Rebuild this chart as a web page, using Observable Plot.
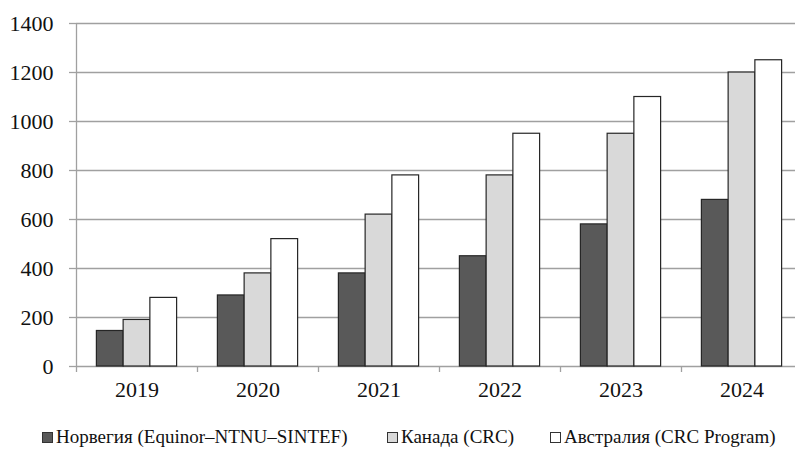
<!DOCTYPE html>
<html>
<head>
<meta charset="utf-8">
<script src="https://cdn.jsdelivr.net/npm/d3@7"></script>
<script src="https://cdn.jsdelivr.net/npm/@observablehq/plot@0.6"></script>
<style>
  html, body { margin: 0; padding: 0; background: #fff; }
  #wrap { position: relative; width: 795px; height: 450px; font-family: "Liberation Serif", "Times New Roman", serif; }
  .leg { position: absolute; top: 426px; font-size: 19px; color: #111; white-space: nowrap; display: flex; align-items: center; }
  .sw { display: inline-block; width: 9px; height: 9px; border: 1px solid #333; margin-right: 3px; }
</style>
</head>
<body>
<div id="wrap"></div>
<script>
const years = ["2019", "2020", "2021", "2022", "2023", "2024"];
const seriesNames = ["Норвегия (Equinor–NTNU–SINTEF)", "Канада (CRC)", "Австралия (CRC Program)"];
const norway = [145, 290, 380, 450, 580, 680];
const canada = [190, 380, 620, 780, 950, 1200];
const australia = [280, 520, 780, 950, 1100, 1250];
const yTicks = [0, 200, 400, 600, 800, 1000, 1200, 1400];

const colors = ["#595959", "#d9d9d9", "#ffffff"];
const seriesValues = [norway, canada, australia];

const rows = [];
years.forEach((yr, i) => {
  seriesValues.forEach((vals, s) => rows.push({i, s, year: yr, series: seriesNames[s], value: vals[i]}));
});

const barW = 0.221;
const groupPad = (1 - 3 * barW) / 2;
const FONT = "Liberation Serif, Times New Roman, serif";

const chart = Plot.plot({
  width: 795,
  height: 410,
  marginLeft: 76,
  marginRight: 0,
  marginTop: 23,
  marginBottom: 44,
  style: {fontFamily: FONT, fontSize: "22px", color: "#111", background: "#fff"},
  x: {domain: [0, 6], range: [76, 802]},
  y: {domain: [0, 1400]},
  color: {domain: seriesNames, range: colors},
  marks: [
    Plot.gridY(yTicks, {stroke: "#a0a0a0", strokeOpacity: 1, strokeWidth: 1.3}),
    Plot.rectY(rows, {
      x1: d => d.i + groupPad + d.s * barW,
      x2: d => d.i + groupPad + (d.s + 1) * barW,
      y1: 0,
      y2: "value",
      fill: d => d.series,
      stroke: "#262626",
      strokeWidth: 1.2
    }),
    Plot.ruleX([0], {y1: 0, y2: 1400, stroke: "#a0a0a0", strokeWidth: 1.3}),
    Plot.axisY({ticks: yTicks, tickSize: 7, tickPadding: 16, tickFormat: d3.format("d"), stroke: "#a0a0a0", strokeWidth: 1.3, fill: "#111", fontSize: 22, fontFamily: FONT, label: null}),
    Plot.axisX({ticks: d3.range(0, 7), tickSize: 6, tickFormat: () => "", stroke: "#a0a0a0", strokeWidth: 1.3, label: null}),
    Plot.axisX({ticks: d3.range(0, 6).map(i => i + 0.5), tickSize: 0, tickPadding: 15, tickFormat: t => years[Math.round(t - 0.5)], fill: "#111", fontSize: 22, fontFamily: FONT, label: null})
  ]
});

const wrap = document.getElementById("wrap");
wrap.appendChild(chart);

const legLefts = [42, 387, 550];
seriesNames.forEach((name, s) => {
  const item = document.createElement("div");
  item.className = "leg";
  item.style.left = legLefts[s] + "px";
  const sw = document.createElement("span");
  sw.className = "sw";
  sw.style.background = colors[s];
  item.appendChild(sw);
  item.appendChild(document.createTextNode(name));
  wrap.appendChild(item);
});
</script>
</body>
</html>
